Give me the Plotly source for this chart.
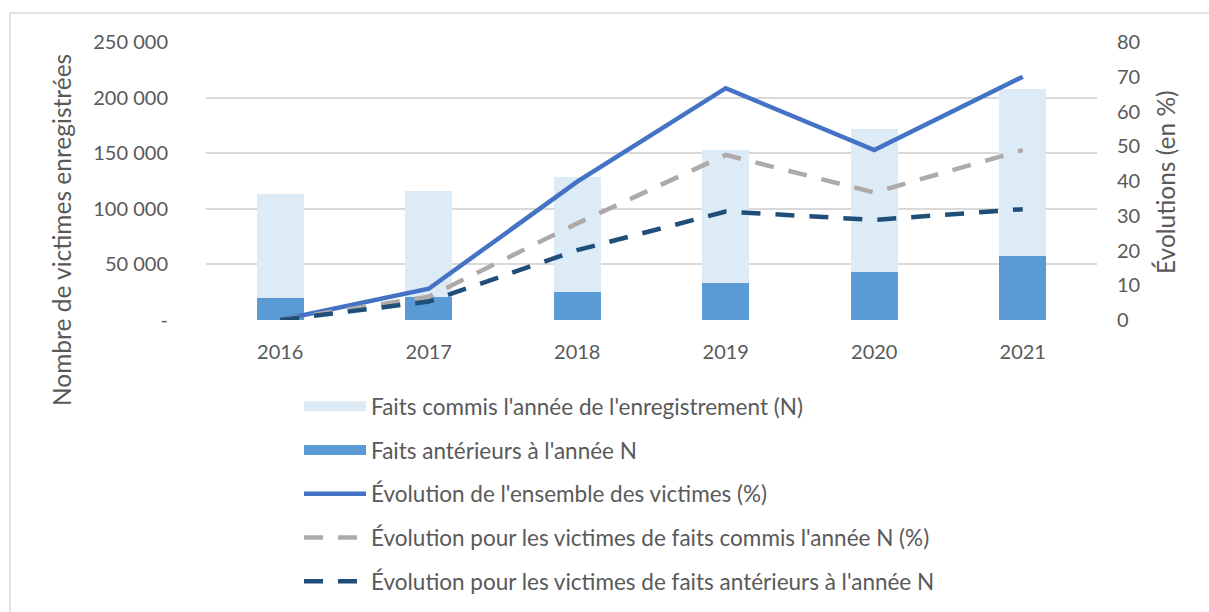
import plotly.graph_objects as go

years = ["2016", "2017", "2018", "2019", "2020", "2021"]
faits_anterieurs = [19800, 21000, 25200, 33600, 43200, 57600]
faits_total = [113300, 115700, 128300, 152900, 171500, 207400]
faits_commis = [t - a for t, a in zip(faits_total, faits_anterieurs)]
evol_ensemble = [0, 9.0, 39.8, 66.7, 48.9, 70.0]
evol_commis = [0, 6.7, 27.8, 47.5, 36.7, 48.9]
evol_anterieurs = [0, 5.3, 20.1, 31.2, 28.8, 31.9]

left_ticks = [0, 50000, 100000, 150000, 200000, 250000]
left_ticktext = ["-", "50 000", "100 000", "150 000", "200 000", "250 000"]
right_ticks = [0, 10, 20, 30, 40, 50, 60, 70, 80]

name_commis = "Faits commis l'année de l'enregistrement (N)"
name_anter = "Faits antérieurs à l'année N"

FONT = "Lato"
TXT = "#595959"
FS = 20
LFS = 22.5
C_LIGHT = "#DDEBF7"
C_DARK = "#5B9BD5"
W, H = 1209, 612

fig = go.Figure()
fig.add_trace(go.Bar(
    x=years, y=faits_anterieurs, name=name_anter,
    marker=dict(color=C_DARK, line=dict(width=0)), width=0.316,
    showlegend=False))
fig.add_trace(go.Bar(
    x=years, y=faits_commis, name=name_commis,
    marker=dict(color=C_LIGHT, line=dict(width=0)), width=0.316,
    showlegend=False))
# legend entries for bars (wide swatches)
fig.add_trace(go.Scatter(
    x=[None], y=[None], mode="lines", name=name_commis,
    line=dict(color=C_LIGHT, width=13), legendrank=1, legendgroup="a"))
fig.add_trace(go.Scatter(
    x=[None], y=[None], mode="lines", name=name_anter,
    line=dict(color=C_DARK, width=13), legendrank=2, legendgroup="b"))
fig.add_trace(go.Scatter(
    x=years, y=evol_ensemble, yaxis="y2", mode="lines",
    name="Évolution de l'ensemble des victimes (%)",
    line=dict(color="#4472C4", width=4.5), legendrank=3, legendgroup="c"))
fig.add_trace(go.Scatter(
    x=years, y=evol_commis, yaxis="y2", mode="lines",
    name="Évolution pour les victimes de faits commis l'année N (%)",
    line=dict(color="#AEAAAA", width=4.5, dash="19px,15px"), legendrank=4, legendgroup="d"))
fig.add_trace(go.Scatter(
    x=years, y=evol_anterieurs, yaxis="y2", mode="lines",
    name="Évolution pour les victimes de faits antérieurs à l'année N",
    line=dict(color="#1F4E79", width=4.5, dash="19px,15px"), legendrank=5, legendgroup="e"))

fig.update_layout(
    width=W, height=H,
    margin=dict(l=206, r=112, t=42, b=292, autoexpand=False),
    paper_bgcolor="white", plot_bgcolor="white",
    barmode="stack", bargap=0.684,
    font=dict(family=FONT, size=FS, color=TXT),
    showlegend=True,
    legend=dict(x=299 / W, y=1 - 385 / H, xref="container", yref="container",
                xanchor="left", yanchor="top",
                orientation="v", tracegroupgap=11.5, itemwidth=62,
                font=dict(family=FONT, size=LFS, color=TXT),
                bgcolor="rgba(0,0,0,0)"),
    xaxis=dict(showgrid=False, showline=False, ticks="", zeroline=False,
               ticklabelstandoff=18,
               tickfont=dict(family=FONT, size=FS, color=TXT)),
    yaxis=dict(range=[0, 250000], tickvals=left_ticks, ticktext=left_ticktext,
               showgrid=True, gridcolor="#D9D9D9", gridwidth=1.5,
               zeroline=False, showline=False, ticks="",
               ticklabelstandoff=37,
               tickfont=dict(family=FONT, size=FS, color=TXT)),
    yaxis2=dict(range=[0, 80], tickvals=right_ticks, overlaying="y", side="right",
                showgrid=False, zeroline=False, showline=False, ticks="",
                ticklabelstandoff=19,
                tickfont=dict(family=FONT, size=FS, color=TXT)),
    annotations=[
        dict(text="Nombre de victimes enregistrées", textangle=-90,
             xref="paper", yref="paper", x=(61 - 206) / 891, y=(320 - 230) / 278,
             xanchor="center", yanchor="middle", showarrow=False,
             font=dict(family=FONT, size=24.5, color=TXT)),
        dict(text="Évolutions (en %)", textangle=-90,
             xref="paper", yref="paper", x=(1165 - 206) / 891, y=(320 - 182) / 278,
             xanchor="center", yanchor="middle", showarrow=False,
             font=dict(family=FONT, size=24.5, color=TXT)),
    ],
    shapes=[
        dict(type="line", xref="paper", yref="paper",
             x0=(10 - 206) / 891, x1=(1215 - 206) / 891,
             y0=(320 - 13) / 278, y1=(320 - 13) / 278,
             line=dict(color="#D9D9D9", width=1.5)),
        dict(type="line", xref="paper", yref="paper",
             x0=(10 - 206) / 891, x1=(10 - 206) / 891,
             y0=(320 - 13) / 278, y1=(320 - 620) / 278,
             line=dict(color="#D9D9D9", width=1.5)),
    ],
)

fig.write_html("out.html", config={"displayModeBar": False},
               post_script="document.body.style.margin='0px';document.body.style.overflow='hidden';")
